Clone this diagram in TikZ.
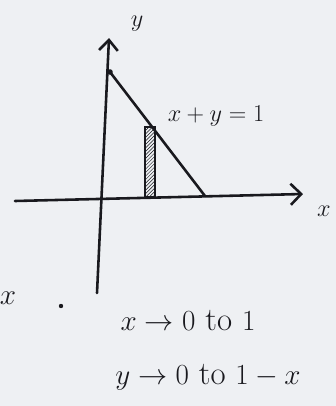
\documentclass[tikz,border=0pt]{standalone}
\usepackage{xcolor}
\usepackage{amsmath}
\usepackage{tikz}
\usetikzlibrary{arrows.meta,positioning,patterns}
\definecolor{mypaper}{RGB}{238,240,243}
\definecolor{myink}{RGB}{25,25,30}

\begin{document}
\begin{tikzpicture}[x=0.03cm, y=-0.03cm,
    ink/.style={draw=myink, line width=2.2pt, line cap=round},
    lbl/.style={text=myink, font=\fontsize{21}{25}\selectfont, inner sep=1pt},
    note/.style={text=myink, font=\fontsize{28}{32}\selectfont, inner sep=1pt}]
  \fill[mypaper] (0,0) rectangle (336,406);
  \useasboundingbox (0,0) rectangle (336,406);
  % axes
  \coordinate (ybot) at (97,293);
  \coordinate (ytop) at (109,38);
  \coordinate (xleft) at (15,201);
  \coordinate (xright) at (303,194);
  \draw[ink, -{Straight Barb[length=9pt, width=16pt]}] (ybot) -- (ytop);
  \draw[ink, -{Straight Barb[length=9pt, width=18pt]}] (xleft) -- (xright);
  \node[lbl] (ylab) at (137,24) {$y$};
  \node[lbl] (xlab) at (324,211) {$x$};
  % the line x+y=1
  \coordinate (yint) at (110,72);
  \coordinate (xint) at (205,196);
  \draw[ink] (yint) -- (xint);
  \fill[myink] (yint) circle (2.8);
  \node[lbl] (eqn) at (216,116) {$x+y=1$};
  % strip
  \node[draw=myink, line width=1.8pt, pattern=north east lines,
        pattern color=myink, minimum width=0.3cm, minimum height=2.1cm,
        inner sep=0pt] (strip) at (150,162) {};
  % limits
  \node[note] (xrest) at (8,298) {$x$};
  \fill[myink] (61,306) circle (2.2);
  \node[note] (xlim) at (188,321) {$x\to 0$ to $1$};
  \node[note] (ylim) at (208,377) {$y\to 0$ to $1-x$};
\end{tikzpicture}
\end{document}
